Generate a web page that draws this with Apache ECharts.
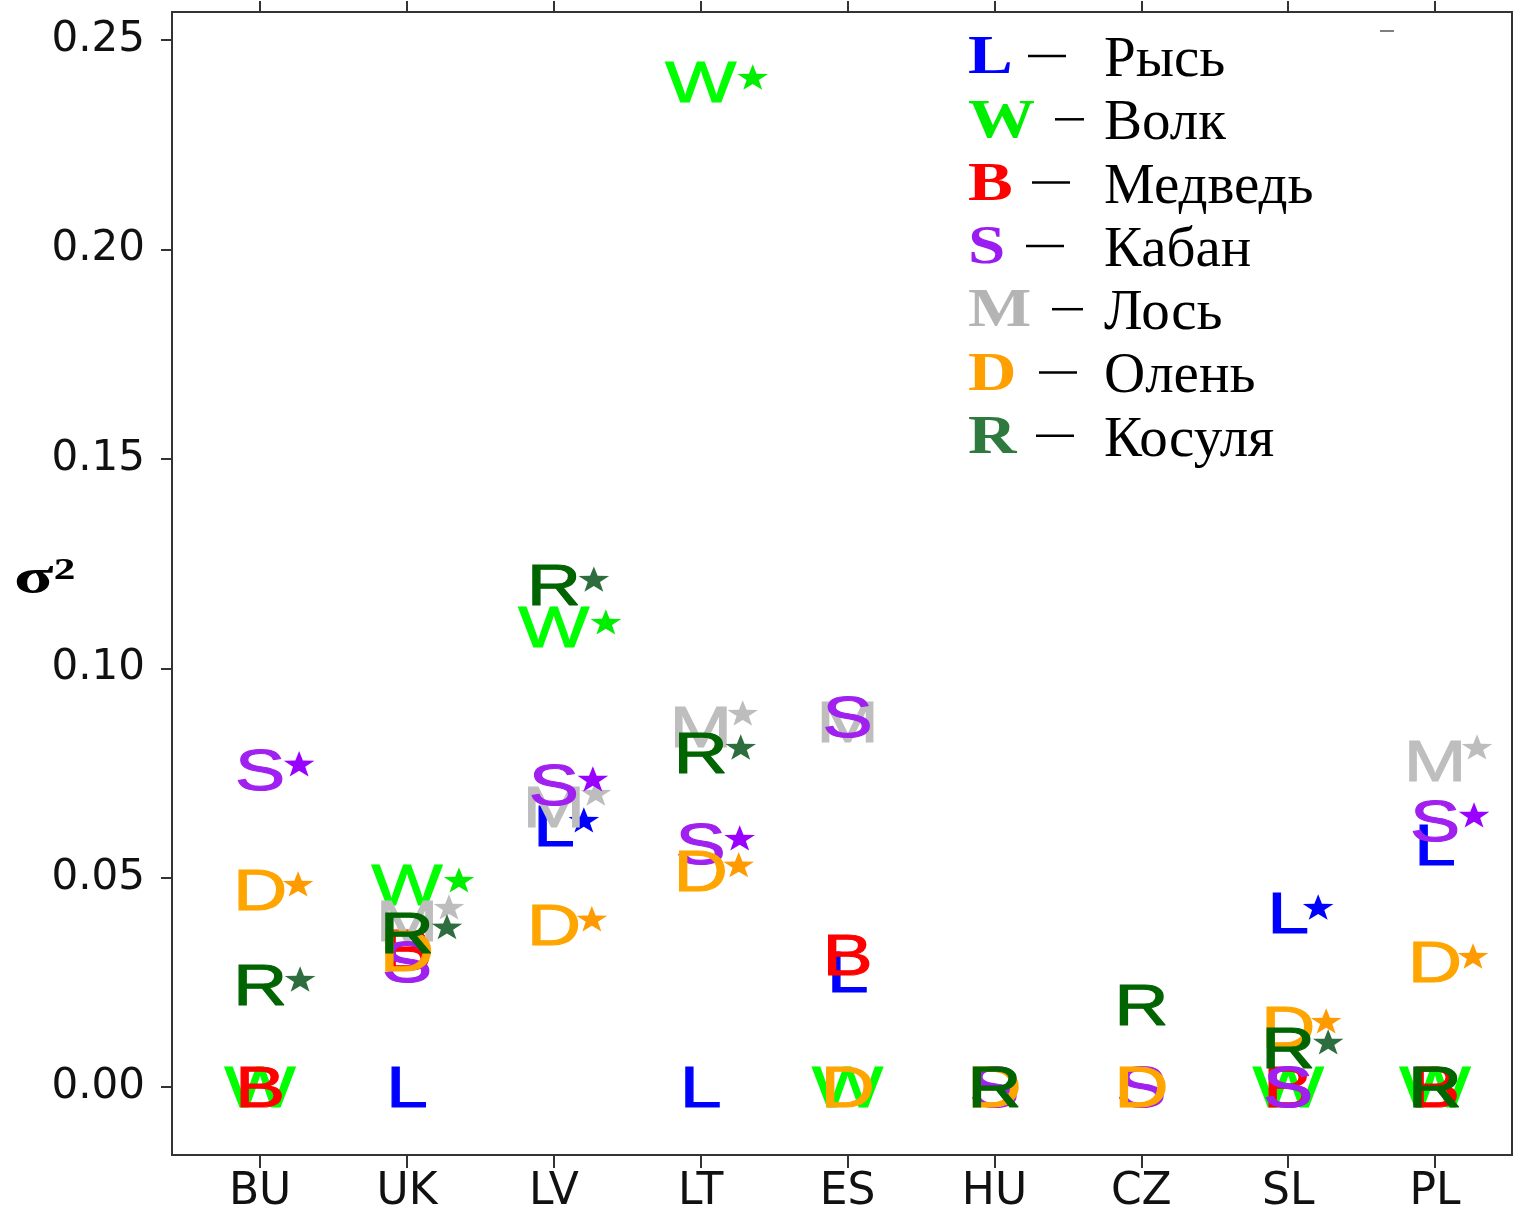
<!DOCTYPE html>
<html>
<head>
<meta charset="utf-8">
<title>sigma2</title>
<script src="https://cdn.jsdelivr.net/npm/echarts@6/dist/echarts.min.js"></script>
<style>
  html, body { margin: 0; padding: 0; background: #fff; }
  #chart { width: 1515px; height: 1215px; }
</style>
</head>
<body>
<div id="chart"></div>
<script>
// countries along x
var categories = ['BU', 'UK', 'LV', 'LT', 'ES', 'HU', 'CZ', 'SL', 'PL'];
var yTicks = [0, 0.05, 0.10, 0.15, 0.20, 0.25];

// sigma^2 per species (null = not present)
var lynx   = [null, 0, 0.0623, 0, 0.0274, null, null, 0.0415, 0.0578];
var wolf   = [0, 0.0482, 0.1098, 0.2399, 0, null, null, 0, 0];
var bear   = [0, 0.0327, null, null, 0.0315, null, null, 0, 0];
var moose  = [null, 0.0396, 0.0668, 0.0859, 0.0871, null, null, null, 0.0778];
var deer   = [0.047, 0.0325, 0.0387, 0.0516, 0, 0, 0, 0.0143, 0.0298];
var boar   = [0.0757, 0.0298, 0.0721, 0.058, 0.0883, 0, 0, 0, 0.0635];
var roe    = [0.0243, 0.0368, 0.1198, 0.0797, null, 0, 0.0196, 0.0093, 0];

// significance stars (1 = star)
var lynxSig  = [0, 0, 1, 0, 0, 0, 0, 1, 0];
var wolfSig  = [0, 1, 1, 1, 0, 0, 0, 0, 0];
var bearSig  = [0, 0, 0, 0, 0, 0, 0, 0, 0];
var mooseSig = [0, 1, 1, 1, 0, 0, 0, 0, 1];
var deerSig  = [1, 0, 1, 1, 0, 0, 0, 1, 1];
var boarSig  = [1, 0, 1, 1, 0, 0, 0, 0, 1];
var roeSig   = [1, 1, 1, 1, 0, 0, 0, 1, 0];

// legend
var legendCodes = ['L', 'W', 'B', 'S', 'M', 'D', 'R'];
var legendNames = ['Рысь', 'Волк', 'Медведь', 'Кабан', 'Лось', 'Олень', 'Косуля'];

var colors = {
  L: '#0000ff', W: '#00ff00', B: '#ff0000', S: '#a020f0',
  M: '#bebebe', D: '#ffa500', R: '#006400'
};
var starColors = {
  L: '#0000ff', W: '#00ee00', B: '#ff0000', S: '#9900ff',
  M: '#bdbdbd', D: '#ff9a00', R: '#2e6e3e'
};
var legendColors = {
  L: '#0000ff', W: '#00ee00', B: '#ff0000', S: '#9a1cf0',
  M: '#b4b4b4', D: '#ffa000', R: '#2e7a3e'
};
// star offset from letter centre (px)
var starDx = { L: 30, W: 52, B: 40, S: 39, M: 42, D: 38, R: 40 };
var starDy = { L: -9, W: -8, B: -9, S: -9, M: -17, D: -9, R: -9 };

// draw order (later on top)
var layers = [
  { code: 'L', values: lynx, sig: lynxSig },
  { code: 'W', values: wolf, sig: wolfSig },
  { code: 'B', values: bear, sig: bearSig },
  { code: 'M', values: moose, sig: mooseSig },
  { code: 'S', values: boar, sig: boarSig },
  { code: 'D', values: deer, sig: deerSig },
  { code: 'R', values: roe, sig: roeSig }
];

function starPoints(cx, cy, r) {
  var pts = [];
  for (var i = 0; i < 10; i++) {
    var a = -Math.PI / 2 + i * Math.PI / 5;
    var rr = i % 2 === 0 ? r : r * 0.4;
    pts.push([cx + Math.cos(a) * rr * 1.15, cy + Math.sin(a) * rr]);
  }
  return pts;
}

var seriesData = [];
layers.forEach(function (layer) {
  var data = [];
  for (var i = 0; i < categories.length; i++) {
    if (layer.values[i] !== null) data.push([i, layer.values[i], layer.sig[i]]);
  }
  var code = layer.code;
  seriesData.push({
    name: code,
    type: 'custom',
    clip: false,
    data: data,
    renderItem: function (params, api) {
      var pt = api.coord([api.value(0), api.value(1)]);
      var children = [{
        type: 'text',
        x: pt[0],
        y: pt[1] + 4,
        scaleX: 1.32,
        style: {
          text: code,
          fill: colors[code],
          stroke: colors[code],
          lineWidth: 1,
          fontFamily: 'Liberation Sans',
          fontSize: 57,
          align: 'center',
          verticalAlign: 'middle'
        }
      }];
      if (api.value(2) === 1) {
        children.push({
          type: 'polygon',
          shape: { points: starPoints(pt[0] + starDx[code], pt[1] + 4 + starDy[code], 14) },
          style: { fill: starColors[code] }
        });
      }
      return { type: 'group', children: children };
    }
  });
});

// legend drawn as graphic text
var graphics = [];
var dashX = [1028, 1055, 1032, 1026, 1052, 1039, 1036];
var dashLen = [38, 29, 38, 38, 31, 38, 38];
for (var k = 0; k < legendCodes.length; k++) {
  var rowY = 59 + k * 63.3;
  graphics.push({
    type: 'text', x: 968, y: rowY, scaleX: 1.22,
    style: {
      text: legendCodes[k], fill: legendColors[legendCodes[k]],
      fontFamily: 'Liberation Serif', fontWeight: 'bold', fontSize: 55,
      align: 'left', verticalAlign: 'middle'
    }
  });
  graphics.push({
    type: 'line',
    shape: { x1: dashX[k], y1: rowY - 3, x2: dashX[k] + dashLen[k], y2: rowY - 3 },
    style: { stroke: '#000', lineWidth: 2.5 }
  });
  graphics.push({
    type: 'text', x: 1104, y: rowY + 2,
    style: {
      text: legendNames[k], fill: '#000',
      fontFamily: 'Liberation Serif', fontSize: 57,
      align: 'left', verticalAlign: 'middle'
    }
  });
}
// y axis name
graphics.push({
  type: 'text', x: 14, y: 580, scaleX: 1.45,
  style: {
    text: 'σ²', fill: '#000', fontFamily: 'Liberation Serif', fontWeight: 'bold',
    fontSize: 50, align: 'left', verticalAlign: 'middle'
  }
});
// small stray mark near top right
graphics.push({
  type: 'line', shape: { x1: 1380, y1: 31, x2: 1394, y2: 31 },
  style: { stroke: '#555', lineWidth: 1.5 }
});

var axisColor = '#333';
var catTicks = categories.map(function (c, i) { return i; });

var chart = echarts.init(document.getElementById('chart'));
var option = {
  backgroundColor: '#fff',
  animation: false,
  grid: {
    left: 172, right: 3, top: 12, bottom: 60,
    show: true, borderColor: axisColor, borderWidth: 2
  },
  xAxis: [{
    type: 'value',
    min: -0.6,
    max: 8.524,
    position: 'bottom',
    splitLine: { show: false },
    axisLine: { show: true, onZero: false, lineStyle: { color: axisColor, width: 2 } },
    axisTick: { show: true, customValues: catTicks, length: 13, lineStyle: { color: axisColor, width: 2 } },
    axisLabel: {
      customValues: catTicks,
      formatter: function (v) { return categories[Math.round(v)]; },
      color: '#111', fontFamily: 'DejaVu Sans', fontSize: 44, margin: 16
    }
  }, {
    type: 'value',
    min: -0.6,
    max: 8.524,
    position: 'top',
    splitLine: { show: false },
    axisLine: { show: true, onZero: false, lineStyle: { color: axisColor, width: 2 } },
    axisTick: { show: true, customValues: catTicks, length: 11, lineStyle: { color: axisColor, width: 2 } },
    axisLabel: { show: false }
  }],
  yAxis: {
    type: 'value',
    min: -0.0162,
    max: 0.2567,
    splitLine: { show: false },
    axisLine: { show: true, onZero: false, lineStyle: { color: axisColor, width: 2 } },
    axisTick: { show: true, customValues: yTicks, length: 11, lineStyle: { color: axisColor, width: 2 } },
    axisLabel: {
      customValues: yTicks,
      formatter: function (v) { return v.toFixed(2); },
      color: '#111', fontFamily: 'DejaVu Sans', fontSize: 42, margin: 27
    }
  },
  graphic: graphics,
  series: seriesData
};
chart.setOption(option);
</script>
</body>
</html>
